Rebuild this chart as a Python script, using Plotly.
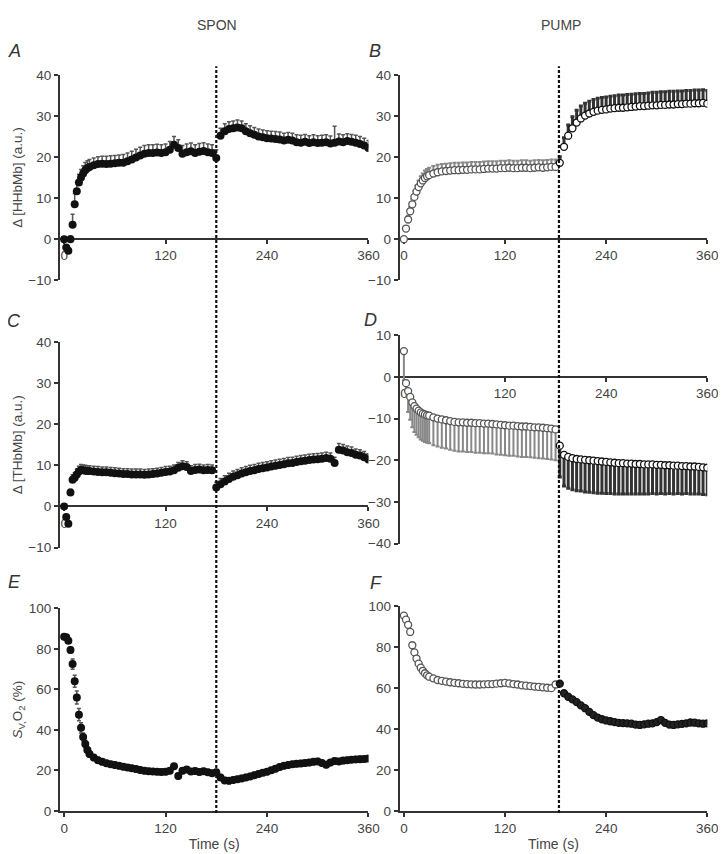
import pandas as pd
import plotly.graph_objects as go

FONT = "Liberation Sans, Arial, sans-serif"
TXT = "#444"
AX = "#333"

# sampling grid (s)
TIME = [0, 2.5, 5, 7.5, 10, 12.5, 15, 17.5, 20, 22.5, 25, 27.5, 30] + list(range(35, 361, 5))

# panel A: SPON delta [HHbMb]
HHB_SPON = [0.0, -2.0, -2.8, 0.0, 3.5, 8.5, 11.7, 13.8, 15.0, 16.0, 16.8, 17.3, 17.6,
            18.0, 18.3, 18.4, 18.3, 18.4, 18.5, 18.6, 18.6, 19.0, 19.4,
            19.9, 20.4, 20.8, 21.0, 21.0, 21.1, 21.0, 21.2, 21.8, 23.0,
            22.2, 20.8, 21.2, 21.4, 21.0, 21.3, 21.5, 21.2, 21.0, 19.8,
            25.2, 26.3, 26.8, 27.0, 27.2, 27.0, 26.3, 25.8, 25.4, 25.0,
            24.8, 24.6, 24.5, 24.4, 24.3, 24.0, 24.2, 24.0, 23.6, 23.5,
            23.7, 23.4, 23.6, 23.4, 23.5, 23.6, 23.3, 23.5, 23.8, 23.6,
            23.9, 23.7, 23.5, 23.2, 22.8, 22.2]
HHB_SPON_SEM = [0.3, 0.6, 0.6, 0.8, 2.6, 2.6, 2.2, 2.0, 2.0, 1.9, 1.9, 1.8, 1.8,
                1.8, 1.8, 1.8, 1.9, 1.9, 1.9, 1.9, 2.0, 2.0, 2.0,
                2.0, 2.0, 2.0, 2.0, 2.0, 2.0, 2.0, 2.0, 2.0, 2.0,
                2.0, 2.0, 2.0, 2.0, 2.0, 2.0, 2.0, 2.0, 2.0, 2.0,
                1.8, 1.8, 1.8, 1.8, 1.8, 1.8, 1.8, 1.8, 1.8, 1.8,
                1.8, 1.8, 1.8, 1.8, 1.8, 1.8, 1.8, 1.8, 1.8, 1.8,
                1.8, 1.8, 1.8, 1.8, 1.8, 1.8, 1.8, 4.0, 1.8, 1.8,
                1.8, 1.8, 1.8, 1.8, 1.8, 1.8]

# panel B: PUMP delta [HHbMb]
HHB_PUMP = [0.0, 2.6, 4.8, 6.8, 8.5, 10.3, 11.6, 12.7, 13.6, 14.3, 14.9, 15.3, 15.6,
            16.0, 16.3, 16.5, 16.6, 16.7, 16.8, 16.8, 16.9, 16.9, 17.0,
            17.0, 17.0, 17.1, 17.2, 17.2, 17.2, 17.3, 17.3, 17.4, 17.3,
            17.3, 17.4, 17.4, 17.3, 17.4, 17.5, 17.4, 17.5, 17.6, 17.6,
            18.6, 22.5, 25.2, 27.0, 28.4, 29.4, 30.1, 30.6, 31.0, 31.3,
            31.5, 31.6, 31.8, 31.9, 32.0, 32.0, 32.1, 32.2, 32.3, 32.4,
            32.4, 32.5, 32.6, 32.6, 32.7, 32.7, 32.8, 32.8, 32.9, 32.9,
            33.0, 33.0, 33.1, 33.1, 33.2, 33.0]
HHB_PUMP_SEM = [0.3, 0.6, 0.9, 1.1, 1.3, 1.4, 1.5, 1.6, 1.7, 1.7, 1.8, 1.8, 1.8,
                1.8, 1.8, 1.8, 1.8, 1.8, 1.8, 1.8, 1.8, 1.8, 1.8,
                1.8, 1.8, 1.8, 1.8, 1.8, 1.8, 1.8, 1.8, 1.8, 1.8,
                1.8, 1.8, 1.8, 1.8, 1.8, 1.8, 1.8, 1.8, 1.8, 1.8,
                1.5, 2.2, 2.6, 2.8, 3.0, 3.0, 3.0, 3.0, 3.0, 3.0,
                3.0, 3.0, 3.0, 3.0, 3.1, 3.1, 3.1, 3.1, 3.1, 3.1,
                3.1, 3.1, 3.2, 3.2, 3.2, 3.2, 3.2, 3.2, 3.2, 3.2,
                3.2, 3.2, 3.2, 3.2, 3.2, 3.2]

# panel C: SPON delta [THbMb]
THB_SPON = [0.0, -2.6, -4.2, 3.4, 6.5, 7.0, 7.8, 8.5, 8.9, 8.8, 8.7, 8.6, 8.6,
            8.5, 8.4, 8.3, 8.3, 8.2, 8.1, 8.0, 7.9, 7.9, 7.8,
            7.8, 7.8, 7.7, 7.8, 7.9, 8.0, 8.2, 8.4, 8.5, 8.8,
            9.4, 9.8, 9.6, 8.6, 8.9, 9.0, 8.8, 8.9, 8.8, 4.6,
            5.4, 6.1, 6.7, 7.2, 7.6, 8.0, 8.3, 8.6, 8.8, 9.1,
            9.3, 9.5, 9.7, 9.9, 10.1, 10.3, 10.5, 10.6, 10.8, 11.0,
            11.1, 11.3, 11.4, 11.5, 11.6, 11.8, 11.6, 10.6, 13.8, 13.6,
            13.2, 13.0, 12.6, 12.4, 12.0, 11.4]
THB_SPON_SEM = [0.3, 0.4, 0.5, 0.8, 1.2, 1.2, 1.3, 1.3, 1.3, 1.3, 1.3, 1.3, 1.3,
                1.3, 1.3, 1.3, 1.3, 1.3, 1.3, 1.3, 1.3, 1.3, 1.3,
                1.3, 1.3, 1.3, 1.3, 1.3, 1.3, 1.3, 1.3, 1.3, 1.3,
                1.3, 1.3, 1.3, 1.3, 1.3, 1.3, 1.3, 1.3, 1.3, 1.3,
                1.4, 1.4, 1.4, 1.4, 1.4, 1.4, 1.4, 1.4, 1.4, 1.4,
                1.4, 1.4, 1.4, 1.4, 1.4, 1.4, 1.4, 1.4, 1.4, 1.4,
                1.4, 1.4, 1.4, 1.4, 1.4, 1.4, 1.4, 1.4, 1.5, 1.5,
                1.5, 1.5, 1.4, 1.4, 1.4, 1.4]

# panel D: PUMP delta [THbMb]
THB_PUMP = [6.2, -1.5, -3.4, -4.8, -6.1, -7.0, -7.6, -8.1, -8.5, -8.8, -9.0, -9.2, -9.3,
            -9.7, -10.0, -10.2, -10.4, -10.6, -10.8, -10.9, -10.9, -11.0, -11.0,
            -11.1, -11.1, -11.2, -11.2, -11.3, -11.4, -11.5, -11.6, -11.7, -11.7,
            -11.8, -11.9, -11.9, -12.0, -12.1, -12.1, -12.2, -12.3, -12.4, -12.6,
            -16.5, -18.7, -19.2, -19.5, -19.7, -19.8, -19.9, -20.0, -20.1, -20.2,
            -20.3, -20.4, -20.5, -20.6, -20.7, -20.7, -20.8, -20.8, -20.9, -20.9,
            -21.0, -21.0, -21.0, -21.1, -21.1, -21.2, -21.2, -21.3, -21.3, -21.4,
            -21.4, -21.5, -21.5, -21.6, -21.7, -21.8]
THB_PUMP_SEM = [7.0, 1.5, 5.0, 5.5, 6.0, 6.2, 6.3, 6.4, 6.5, 6.5, 6.6, 6.6, 6.6,
                6.7, 6.7, 6.8, 6.8, 6.9, 6.9, 7.0, 7.0, 7.0, 7.0,
                7.1, 7.1, 7.1, 7.1, 7.1, 7.2, 7.2, 7.2, 7.2, 7.2,
                7.3, 7.3, 7.3, 7.3, 7.3, 7.4, 7.4, 7.4, 7.4, 7.4,
                7.5, 7.5, 7.5, 7.6, 7.6, 7.6, 7.7, 7.7, 7.7, 7.7,
                7.6, 7.6, 7.5, 7.5, 7.4, 7.4, 7.3, 7.3, 7.2, 7.2,
                7.1, 7.1, 7.0, 7.0, 6.9, 6.9, 6.8, 6.8, 6.7, 6.7,
                6.6, 6.6, 6.6, 6.5, 6.5, 6.5]

# panel E: SPON SvO2 (%)
SVO2_SPON = [86.0, 85.8, 84.0, 79.5, 72.5, 64.0, 56.0, 47.5, 41.0, 36.5, 33.0, 30.0, 28.0,
             26.3, 25.0, 24.2, 23.5, 23.0, 22.6, 22.2, 21.8, 21.4, 21.0,
             20.6, 20.2, 19.8, 19.5, 19.4, 19.3, 19.2, 19.3, 19.8, 22.0,
             17.2, 19.8, 20.4, 19.4, 19.6, 19.2, 19.5, 19.0, 18.6, 19.0,
             16.5, 15.0, 14.8, 15.2, 15.6, 16.0, 16.5, 17.0, 17.6, 18.2,
             18.8, 19.3, 20.0, 20.8, 21.6, 22.2, 22.6, 23.0, 23.2, 23.4,
             23.6, 23.8, 24.2, 24.4, 23.6, 22.8, 23.8, 24.6, 24.4, 24.8,
             25.0, 25.2, 25.4, 25.5, 25.6, 25.8]
SVO2_SPON_SEM = [0.8, 0.8, 1.0, 1.5, 2.5, 3.0, 3.2, 3.0, 2.5, 2.0, 1.8, 1.5, 1.5,
                 1.4, 1.4, 1.4, 1.4, 1.4, 1.4, 1.4, 1.4, 1.4, 1.4,
                 1.4, 1.4, 1.4, 1.4, 1.4, 1.4, 1.4, 1.4, 1.4, 1.4,
                 1.4, 1.4, 1.4, 1.4, 1.4, 1.4, 1.4, 1.4, 1.4, 1.4,
                 1.4, 1.4, 1.4, 1.4, 1.4, 1.4, 1.4, 1.4, 1.4, 1.4,
                 1.4, 1.4, 1.4, 1.4, 1.4, 1.4, 1.4, 1.4, 1.4, 1.4,
                 1.4, 1.4, 1.4, 1.4, 1.4, 1.4, 1.4, 1.4, 1.4, 1.4,
                 1.4, 1.4, 1.4, 1.4, 1.4, 1.4]

# panel F: PUMP SvO2 (%)
SVO2_PUMP = [95.5, 93.5, 91.0, 87.5, 81.0, 77.5, 74.5, 72.0, 70.0, 68.5, 67.3, 66.3, 65.6,
             64.8, 64.0, 63.6, 63.2, 62.9, 62.6, 62.4, 62.1, 62.0, 61.9,
             61.8, 61.8, 61.9, 62.0, 62.0, 62.2, 62.4, 62.6, 62.3, 62.0,
             61.8, 61.4, 61.2, 61.0, 60.8, 60.6, 60.4, 60.2, 60.0, 61.8,
             62.2, 57.5, 55.8, 54.5, 53.2, 51.6, 50.2, 48.4, 46.8, 45.6,
             44.8, 44.2, 43.8, 43.4, 43.0, 42.9, 42.8, 42.6, 42.2, 42.0,
             42.3, 42.6, 42.8, 43.4, 44.4, 43.0, 42.2, 42.0, 42.3, 42.5,
             42.8, 43.2, 43.1, 42.8, 42.6, 42.8]
SVO2_PUMP_SEM = [0.8] * 79

X_TICKS = [0, 120, 240, 360]
SPON_LINE = 180
PUMP_LINE = 184

df = pd.DataFrame({
    "t": TIME,
    "hhb_spon": HHB_SPON, "hhb_spon_sem": HHB_SPON_SEM,
    "hhb_pump": HHB_PUMP, "hhb_pump_sem": HHB_PUMP_SEM,
    "thb_spon": THB_SPON, "thb_spon_sem": THB_SPON_SEM,
    "thb_pump": THB_PUMP, "thb_pump_sem": THB_PUMP_SEM,
    "svo2_spon": SVO2_SPON, "svo2_spon_sem": SVO2_SPON_SEM,
    "svo2_pump": SVO2_PUMP, "svo2_pump_sem": SVO2_PUMP_SEM,
})

fig = go.Figure()


def spon_trace(col, n, both=False):
    d = df
    fig.add_trace(go.Scatter(
        x=d["t"], y=d[col], mode="markers",
        marker=dict(color="#111", size=8, line=dict(width=0)),
        error_y=dict(type="data", array=d[col + "_sem"],
                     arrayminus=d[col + "_sem"] if both else [0] * len(d),
                     symmetric=both, color="#555", thickness=1.5, width=2),
        xaxis=f"x{n}", yaxis=f"y{n}", showlegend=False,
    ))


def pump_trace(col, n, down=False, fill2="white"):
    pre = df[df["t"] <= PUMP_LINE]
    post = df[df["t"] > PUMP_LINE]
    for d, ecol, mline, fill, thick in [(pre, "#888", "#555", "white", 2),
                                        (post, "#333", "#111", fill2, 3)]:
        sem = d[col + "_sem"]
        zero = [0] * len(d)
        fig.add_trace(go.Scatter(
            x=d["t"], y=d[col], mode="markers",
            marker=dict(color=fill, size=7, line=dict(width=1.3, color=mline)),
            error_y=dict(type="data", symmetric=False,
                         array=zero if down else sem,
                         arrayminus=sem if down else zero,
                         color=ecol, thickness=thick, width=2),
            xaxis=f"x{n}", yaxis=f"y{n}", showlegend=False,
        ))


spon_trace("hhb_spon", 1)
pump_trace("hhb_pump", 2)
spon_trace("thb_spon", 3)
pump_trace("thb_pump", 4, down=True)
spon_trace("svo2_spon", 5, both=True)
pump_trace("svo2_pump", 6, fill2="#222")

LEFT = [0.0726, 0.5041]
RIGHT = [0.5478, 0.978]
ROWS = {
    1: ([0.6838, 0.9286], [-10, 40], [0, 10, 20, 30, 40, -10]),
    2: ([0.6838, 0.9286], [-10, 40], [0, 10, 20, 30, 40, -10]),
    3: ([0.3653, 0.6101], [-10, 40], [0, 10, 20, 30, 40, -10]),
    4: ([0.3700, 0.6183], [-40, 10], [10, 0, -10, -20, -30, -40]),
    5: ([0.0515, 0.2927], [0, 100], [0, 20, 40, 60, 80, 100]),
    6: ([0.0515, 0.2951], [0, 100], [0, 20, 40, 60, 80, 100]),
}
YTITLES = {1: "Δ [HHbMb] (a.u.)", 3: "Δ [THbMb] (a.u.)",
           5: "<i>S</i><sub>V,</sub>O<sub>2</sub> (%)"}

tickfont = dict(family=FONT, size=13.5, color=TXT)
layout = {}
for n, (ydom, yr, yt) in ROWS.items():
    xdom = LEFT if n % 2 else RIGHT
    xa = dict(domain=xdom, range=[-5, 360], tickvals=X_TICKS, ticks="outside",
              ticklen=4, tickwidth=1.5, tickcolor=AX, showline=True,
              linecolor=AX, linewidth=2, showgrid=False, zeroline=False,
              tickfont=tickfont, layer="below traces")
    if yr[0] < 0:
        zero_pos = ydom[0] + (0 - yr[0]) / (yr[1] - yr[0]) * (ydom[1] - ydom[0])
        xa.update(anchor="free", position=zero_pos)
    else:
        xa.update(anchor=f"y{n}",
                  title=dict(text="Time (s)", standoff=4,
                             font=dict(family=FONT, size=14, color=TXT)))
    ya = dict(domain=ydom, range=yr, tickvals=yt, anchor=f"x{n}", ticks="outside",
              ticklen=4, tickwidth=1.5, tickcolor=AX, showline=True,
              linecolor=AX, linewidth=2, showgrid=False, zeroline=False,
              tickfont=tickfont)
    if n in YTITLES:
        ya["title"] = dict(text=YTITLES[n], standoff=3,
                           font=dict(family=FONT, size=13.5, color=TXT))
    sfx = "" if n == 1 else str(n)
    layout["xaxis" + sfx] = xa
    layout["yaxis" + sfx] = ya

fig.update_layout(**layout)

# dotted vertical lines marking the change
for xr, xv in [("x", SPON_LINE), ("x2", PUMP_LINE)]:
    fig.add_shape(type="line", xref=xr, yref="paper", x0=xv, x1=xv,
                  y0=0.049, y1=0.939,
                  line=dict(color="#111", width=2.2, dash="3px,2px"))

notes = [("SPON", 0.292, 0.988, 14, False), ("PUMP", 0.773, 0.988, 14, False),
         ("A", 0.009, 0.957, 18, True), ("B", 0.513, 0.957, 18, True),
         ("C", 0.009, 0.635, 18, True), ("D", 0.507, 0.637, 18, True),
         ("E", 0.009, 0.324, 18, True), ("F", 0.515, 0.323, 18, True)]
for text, x, y, size, ital in notes:
    fig.add_annotation(text=f"<i>{text}</i>" if ital else text, x=x, y=y,
                       xref="paper", yref="paper", showarrow=False,
                       xanchor="center", yanchor="middle",
                       font=dict(family=FONT, size=size, color="#333" if ital else TXT))

fig.update_layout(
    width=726, height=854,
    margin=dict(l=0, r=0, t=0, b=0),
    paper_bgcolor="white", plot_bgcolor="white",
    font=dict(family=FONT, color=TXT),
    showlegend=False,
)

fig.write_html("out.html")
